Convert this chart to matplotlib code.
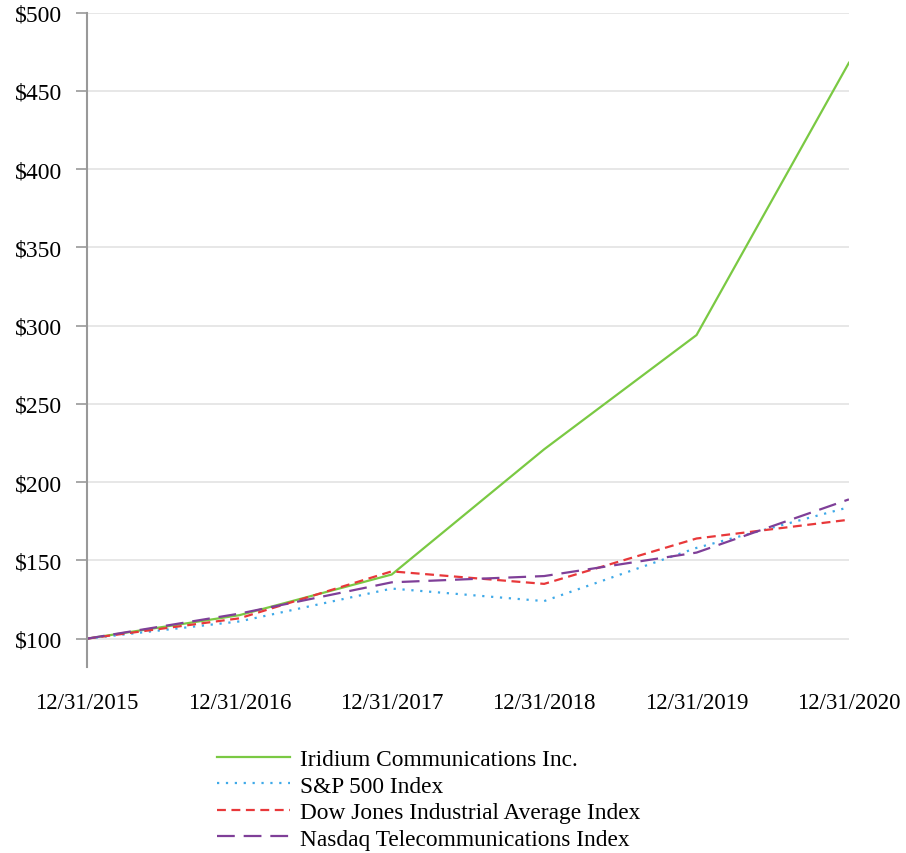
import matplotlib

matplotlib.use("Agg")
import matplotlib.pyplot as plt

dates = ["12/31/2015", "12/31/2016", "12/31/2017", "12/31/2018", "12/31/2019", "12/31/2020"]
iridium = [100, 115, 141, 221, 294, 468]
sp500 = [100, 111, 132, 124, 158, 184]
dow = [100, 113, 143, 135, 164, 176]
nasdaq = [100, 116, 136, 140, 155, 189]
yticks = [100, 150, 200, 250, 300, 350, 400, 450, 500]

plt.rcParams["font.family"] = ["Liberation Serif", "DejaVu Serif"]

fig = plt.figure(figsize=(9.06, 8.54), dpi=100)
ax = fig.add_axes([0.096, 0.218, 0.841, 0.766])

x = list(range(len(dates)))
ax.plot(x, iridium, color="#7ac943", lw=1.6, label="Iridium Communications Inc.")
ax.plot(x, sp500, color="#3fa9e8", lw=1.6, ls=(0, (1, 3)), label="S&P 500 Index")
ax.plot(x, dow, color="#e8383a", lw=1.6, ls=(0, (4, 2.5)), label="Dow Jones Industrial Average Index")
ax.plot(x, nasdaq, color="#7f3f98", lw=1.6, ls=(0, (8, 4)), label="Nasdaq Telecommunications Index")

ax.set_xlim(0, 5)
ax.set_ylim(82, 500)
ax.set_yticks(yticks)
ax.set_yticklabels([f"${v}" for v in yticks], fontsize=17)
ax.set_xticks(x)
ax.set_xticklabels(dates, fontsize=16.5)
ax.yaxis.grid(True, color="#e3e3e3", lw=1.2)
ax.set_axisbelow(True)

for s in ["top", "right", "bottom"]:
    ax.spines[s].set_visible(False)
ax.spines["left"].set_color("#999999")
ax.spines["left"].set_linewidth(1.5)
ax.tick_params(axis="y", length=8, color="#999999", width=1.2, pad=10)
ax.tick_params(axis="x", length=0, pad=18)

fig.legend(loc="upper left", bbox_to_anchor=(0.240, 0.122), frameon=False,
           fontsize=16.8, handlelength=3.1, handletextpad=0.45, labelspacing=0.22,
           borderaxespad=0, borderpad=0)

fig.savefig("out.png", dpi=100)
